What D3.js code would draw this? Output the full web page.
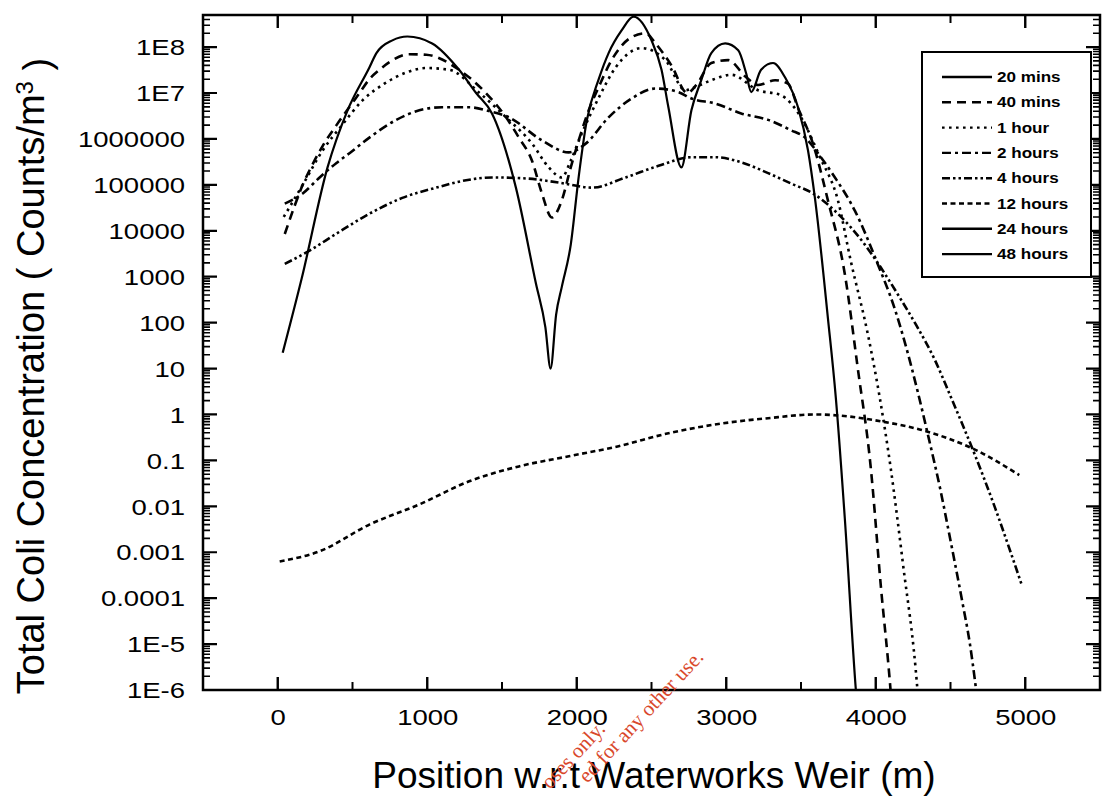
<!DOCTYPE html>
<html><head><meta charset="utf-8">
<script src="https://cdn.jsdelivr.net/npm/d3@7"></script>
<style>
body{margin:0;background:#fff}
text.sans{font-family:"Liberation Sans",Arial,Helvetica,sans-serif}
</style>
</head><body>
<svg id="chart" width="1107" height="798" xmlns="http://www.w3.org/2000/svg"></svg>
<script>
const seriesNames = ["20 mins","40 mins","1 hour","2 hours","4 hours","12 hours","24 hours","48 hours"];
const xTickValues = [0,1000,2000,3000,4000,5000];
const xMinorValues = [-500,500,1500,2500,3500,4500,5500];
const yTickValues = [1e-6,1e-5,1e-4,1e-3,1e-2,1e-1,1,10,100,1e3,1e4,1e5,1e6,1e7,1e8];
const yTickLabels = ["1E-6","1E-5","0.0001","0.001","0.01","0.1","1","10","100","1000","10000","100000","1000000","1E7","1E8"];

// [position (m), concentration (counts/m^3)]
const min20 = [[33,22],[160,910],[333,2.4e5],[467,4.2e6],[613,3.6e7],[660,7.4e7],[767,1.4e8],[867,1.7e8],[1033,1.2e8],[1213,3.2e7],[1327,1e7],[1433,3.6e6],[1593,8.7e4],[1727,710],[1790,80],[1825,10],[1862,150],[1900,600],[1960,5e3],[2013,1.5e5],[2067,2.5e6],[2147,2e7],[2213,7.4e7],[2300,2.3e8],[2380,4.6e8],[2500,1.4e8],[2567,3.2e7],[2613,4.9e6],[2700,2.4e5],[2767,4.2e6],[2833,1.9e7],[2900,7.4e7],[2993,1.2e8],[3080,8.5e7],[3133,2.7e7],[3167,1.05e7],[3233,3.2e7],[3313,4.5e7],[3393,2.2e7],[3480,4.9e6],[3547,5.6e5],[3593,5.2e4],[3680,126],[3733,2.3],[3793,5.5e-3],[3867,1e-6],[3880,3e-7]];
const min40 = [[47,8.5e3],[113,3.5e4],[167,1e5],[233,2.8e5],[300,7e5],[393,2e6],[480,5e6],[547,1e7],[613,2e7],[680,3.2e7],[747,4.7e7],[880,7e7],[993,6.8e7],[1213,3.2e7],[1380,1.1e7],[1527,2.95e6],[1613,1.07e6],[1700,3.4e5],[1767,6.5e4],[1833,1.95e4],[1900,4.6e4],[1960,2.4e5],[2013,9.3e5],[2080,4.2e6],[2147,1.35e7],[2233,5.2e7],[2367,1.65e8],[2460,2e8],[2527,1.2e8],[2633,4e7],[2740,1e7],[2800,1.5e7],[2900,4.5e7],[3013,5.2e7],[3133,2.2e7],[3213,1.5e7],[3327,1.9e7],[3413,1.6e7],[3480,4.7e6],[3580,7.9e5],[3680,4.6e4],[3793,1150],[3880,10],[3967,0.068],[4033,2e-4],[4100,9e-7],[4115,2e-7]];
const hour1 = [[40,2e4],[167,1e5],[300,5.6e5],[430,2e6],[567,6.9e6],[713,1.6e7],[860,2.8e7],[993,3.5e7],[1147,3.2e7],[1350,1e7],[1527,2.95e6],[1700,8e5],[1813,2.4e5],[1900,1.45e5],[1960,3.4e5],[2033,1.3e6],[2147,7.9e6],[2260,3.6e7],[2433,9.5e7],[2593,5.2e7],[2727,1.15e7],[2793,1.35e7],[2900,1.9e7],[3033,2.5e7],[3213,1.15e7],[3367,8.9e6],[3500,2.95e6],[3627,4e5],[3747,4.6e4],[3833,2.2e3],[3947,56],[4027,2.3],[4100,0.068],[4180,6.3e-4],[4280,9e-7],[4295,2e-7]];
const hours2 = [[47,3.9e4],[167,6.5e4],[280,1.45e5],[393,3e5],[480,4.9e5],[613,1.07e6],[793,2.6e6],[947,4.2e6],[1100,4.9e6],[1280,4.9e6],[1420,4e6],[1547,2.95e6],[1767,9.3e5],[1947,5.1e5],[2060,7.9e5],[2213,2.95e6],[2367,7.6e6],[2527,1.25e7],[2680,1.05e7],[2767,7.6e6],[2927,5.9e6],[3100,3.6e6],[3280,2.6e6],[3433,1.55e6],[3527,1.07e6],[3633,4e5],[3727,1.45e5],[3860,2.75e4],[4013,1.9e3],[4127,200],[4200,32],[4280,3.2],[4350,0.35],[4430,0.025],[4500,1.8e-3],[4580,8e-5],[4630,1e-5],[4667,1.3e-6],[4690,3e-7]];
const hours4 = [[47,1.9e3],[213,3.7e3],[393,8.7e3],[613,2.35e4],[833,5.2e4],[1060,8.7e4],[1260,1.26e5],[1433,1.45e5],[1660,1.38e5],[1880,1.12e5],[2100,8.7e4],[2327,1.45e5],[2547,2.6e5],[2767,4e5],[2927,4e5],[3100,3.1e5],[3280,1.8e5],[3433,1.07e5],[3580,6.5e4],[3747,2.35e4],[3927,5e3],[4033,1.6e3],[4150,400],[4270,89],[4393,16],[4500,2.5],[4660,0.14],[4800,8.9e-3],[4900,1.05e-3],[4980,1.8e-4]];
const hours12 = [[13,6.3e-4],[280,1.05e-3],[613,4e-3],[947,0.011],[1280,0.035],[1613,0.074],[1947,0.123],[2280,0.204],[2613,0.39],[2947,0.62],[3280,0.83],[3593,1.0],[3813,0.91],[4033,0.71],[4327,0.44],[4660,0.174],[4960,0.048]];
const hours24 = [];
const hours48 = [];
const seriesData = [min20, min40, hour1, hours2, hours4, hours12, hours24, hours48];

const dashStyles = [null, "9,6", "2.6,4.4", "9,4,3,4", "8,3,2.5,3,2.5,3", "5,3.5", null, null];
const M = {left: 203, right: 1100, top: 15, bottom: 690};

const svg = d3.select("#chart");
const x = d3.scaleLinear().domain([-500, 5500]).range([M.left, M.right]);
const y = d3.scaleLog().domain([1e-6, 5e8]).range([M.bottom, M.top]);

svg.append("defs").append("clipPath").attr("id","plotclip")
  .append("rect").attr("x",M.left).attr("y",M.top).attr("width",M.right-M.left).attr("height",M.bottom-M.top);

const yMinor = [];
for (let e = -6; e <= 8; e++) for (let k = 2; k <= 9; k++) { const v = k*Math.pow(10,e); if (v < 5e8) yMinor.push(v); }

// curves
const line = d3.line().x(d=>x(d[0])).y(d=>y(d[1])).curve(d3.curveMonotoneX);
const gLines = svg.append("g").attr("clip-path","url(#plotclip)");
seriesData.forEach((s,i)=>{
  if (!s.length) return;
  gLines.append("path").datum(s).attr("d",line)
    .attr("fill","none").attr("stroke","#000")
    .attr("stroke-width", i===0 ? 2.2 : 2.6)
    .attr("stroke-dasharray", dashStyles[i]);
});

// inward tick marks on all four sides
const seg = d3.line();
function tickPath(segments, w){
  svg.append("path").attr("d", segments.map(s=>seg(s)).join(""))
    .attr("fill","none").attr("stroke","#000").attr("stroke-width",w);
}
tickPath(yMinor.flatMap(v=>[[[M.left,y(v)],[M.left+7,y(v)]],[[M.right,y(v)],[M.right-7,y(v)]]]), 1.6);
tickPath(yTickValues.flatMap(v=>[[[M.left,y(v)],[M.left+14,y(v)]],[[M.right,y(v)],[M.right-14,y(v)]]]), 2.2);
tickPath(xMinorValues.flatMap(v=>[[[x(v),M.bottom],[x(v),M.bottom-8]],[[x(v),M.top],[x(v),M.top+8]]]), 2);
tickPath(xTickValues.flatMap(v=>[[[x(v),M.bottom],[x(v),M.bottom-13]],[[x(v),M.top],[x(v),M.top+13]]]), 2.4);

// frame
svg.append("rect").attr("x",M.left).attr("y",M.top).attr("width",M.right-M.left).attr("height",M.bottom-M.top)
  .attr("fill","none").attr("stroke","#000").attr("stroke-width",2.5);

// tick labels via d3 axes
const gl = svg.append("g").attr("transform",`translate(${M.left},0)`)
  .call(d3.axisLeft(y).tickValues(yTickValues).tickSize(0).tickFormat((d,i)=>yTickLabels[i]));
gl.select(".domain").remove();
gl.selectAll("text").attr("class","sans").attr("x",0).attr("dy","0.35em")
  .attr("transform","translate(-18,0) scale(1.25,1)")
  .attr("font-size",22).attr("text-anchor","end").attr("fill","#000");

const gb = svg.append("g").attr("transform",`translate(0,${M.bottom})`)
  .call(d3.axisBottom(x).tickValues(xTickValues).tickSize(0).tickFormat(d3.format("d")));
gb.select(".domain").remove();
gb.selectAll("text").attr("class","sans").attr("y",0).attr("dy","0")
  .attr("transform","translate(0,35) scale(1.25,1)")
  .attr("font-size",22).attr("fill","#000");

// legend
const L = {x: 922, y: 52, w: 169, h: 225, row0: 77, step: 25.3};
const gLeg = svg.append("g");
gLeg.append("rect").attr("x",L.x).attr("y",L.y).attr("width",L.w).attr("height",L.h)
  .attr("fill","#fff").attr("stroke","#000").attr("stroke-width",2);
seriesNames.forEach((n,i)=>{
  const yy = L.row0 + i*L.step;
  gLeg.append("line").attr("x1",942).attr("x2",992).attr("y1",yy).attr("y2",yy)
    .attr("stroke","#000").attr("stroke-width",2.4).attr("stroke-dasharray",dashStyles[i]);
  gLeg.append("text").attr("class","sans").attr("transform",`translate(997,${yy+5}) scale(1.22,1)`)
    .attr("font-size",14).attr("font-weight","bold").text(n);
});

// axis titles
svg.append("text").attr("class","sans").attr("x",654).attr("y",788).attr("text-anchor","middle")
  .attr("font-size",37).text("Position w.r.t Waterworks Weir (m)");
const yt = svg.append("text").attr("class","sans").attr("transform","translate(44,376) rotate(-90)")
  .attr("text-anchor","middle").attr("font-size",38);
yt.append("tspan").text("Total Coli Concentration ( Counts/m");
yt.append("tspan").attr("dy","-0.45em").attr("font-size",24).text("3");
yt.append("tspan").attr("dy","0.45em").text(" )");

// watermark
const wm = svg.append("g").attr("transform","translate(550,790) rotate(-47)");
wm.append("text").attr("x",0).attr("y",0)
  .attr("font-family","'Liberation Serif','Times New Roman',serif").attr("font-size",21)
  .attr("fill","#d9482c").text("oses only.");
wm.append("text").attr("x",30).attr("y",23)
  .attr("font-family","'Liberation Serif','Times New Roman',serif").attr("font-size",21)
  .attr("fill","#d9482c").text("ed for any other use.");
</script>
</body></html>
